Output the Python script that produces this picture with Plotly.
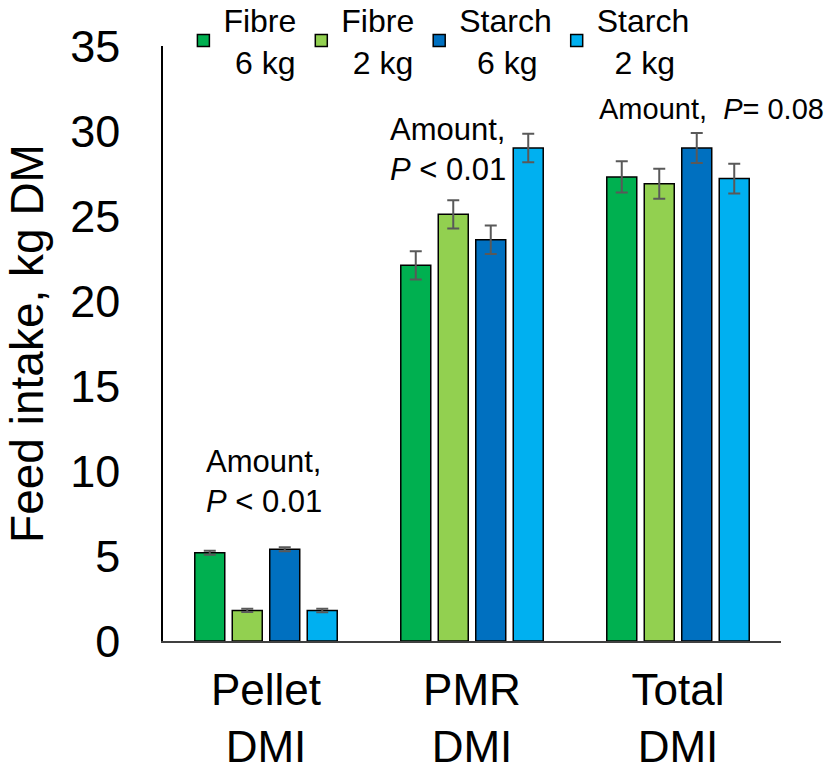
import plotly.graph_objects as go

categories = ["Pellet<br>DMI", "PMR<br>DMI", "Total<br>DMI"]
series_names = ["Fibre<br>\u00a0\u200a6 kg", "Fibre<br>\u00a0\u200a2 kg",
                "Starch<br>\u00a0\u00a06 kg", "Starch<br>\u00a0\u00a02 kg"]
fibre6 = [5.19, 22.1, 27.3]
fibre2 = [1.80, 25.1, 26.9]
starch6 = [5.40, 23.6, 29.0]
starch2 = [1.79, 29.0, 27.2]
fibre6_err = [0.12, 0.83, 0.92]
fibre2_err = [0.10, 0.83, 0.88]
starch6_err = [0.12, 0.84, 0.88]
starch2_err = [0.10, 0.84, 0.88]
colors = ["#00B050", "#92D050", "#0070C0", "#00B0F0"]
y_ticks = [0, 5, 10, 15, 20, 25, 30, 35]

FONT = "Arial, Liberation Sans, sans-serif"

fig = go.Figure()
for name, vals, errs, col in zip(series_names,
                                 [fibre6, fibre2, starch6, starch2],
                                 [fibre6_err, fibre2_err, starch6_err, starch2_err],
                                 colors):
    fig.add_trace(go.Bar(
        x=categories, y=vals, name=name,
        marker=dict(color=col, line=dict(color="black", width=1.5)),
        error_y=dict(type="data", array=errs, visible=True,
                     color="#595959", thickness=2, width=6),
    ))

annotations = [
    dict(x=categories[0], y=9.4, text="Amount,<br><i>P</i> < 0.01", xshift=-2, size=31),
    dict(x=categories[1], y=28.9, text="Amount,<br><i>P</i> < 0.01", xshift=-24, size=31),
    dict(x=categories[2], y=31.3, text="Amount,  <i>P</i>= 0.08", xshift=33, size=29),
]
for a in annotations:
    fig.add_annotation(xref="x", yref="y", showarrow=False, align="left",
                       x=a["x"], y=a["y"], text=a["text"], xshift=a["xshift"],
                       font=dict(family=FONT, size=a["size"], color="black"))

fig.update_layout(
    width=831, height=773,
    margin=dict(l=163, r=50, t=46, b=131.5, autoexpand=False),
    paper_bgcolor="white", plot_bgcolor="white",
    barmode="group", bargap=0.272, bargroupgap=0.2,
    font=dict(family=FONT, color="black"),
    showlegend=True,
    legend=dict(orientation="h",
                x=0.033, y=1.09, xanchor="left", yanchor="top",
                font=dict(family=FONT, size=32, color="black"),
                bgcolor="rgba(0,0,0,0)", traceorder="normal"),
    xaxis=dict(showline=True, linecolor="#404040", linewidth=1.5, range=[-0.5, 2.5],
               ticks="", tickfont=dict(family=FONT, size=44, color="black"),
               ticklabelstandoff=9, showgrid=False),
    yaxis=dict(title=dict(text="Feed intake, kg DM", font=dict(family=FONT, size=46, color="black"),
                          standoff=12),
               range=[0, 35], tickvals=y_ticks, showline=True, linecolor="black", linewidth=1.5,
               ticks="", tickfont=dict(family=FONT, size=45, color="black"),
               ticklabelstandoff=32, showgrid=False, zeroline=False),
)

fig.write_html("out.html")
